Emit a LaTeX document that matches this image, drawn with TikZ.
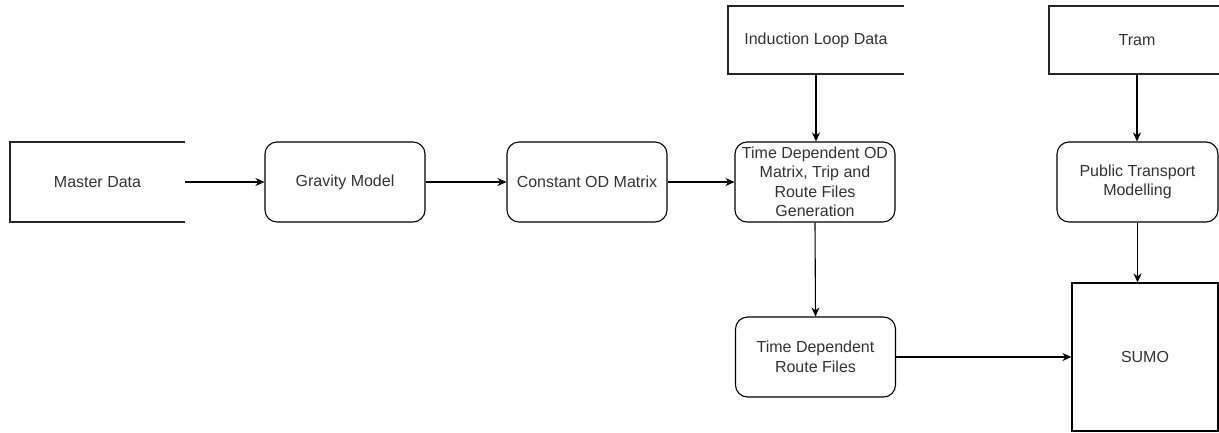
\documentclass[tikz,border=0pt]{standalone}
\usepackage{fontspec}
\setmainfont{Liberation Sans}
\usetikzlibrary{arrows.meta}
\definecolor{txt}{HTML}{333333}
\tikzset{
  lbl/.style={inner sep=0pt, align=center, text=txt, font=\fontsize{16}{19.5}\selectfont},
  proc/.style={lbl, draw=black, line width=1.1pt, rounded corners=12pt, minimum width=160pt, minimum height=80pt},
  plain/.style={lbl, draw=black, line width=1.1pt, minimum width=146pt, minimum height=148pt},
  storebox/.style={lbl, draw=none},
  storeline/.style={draw=black!85, line width=2.2pt},
  conn/.style={draw=black, line width=1.1pt, -{Stealth[length=9pt,width=8pt]}}
}
\begin{document}
\begin{tikzpicture}[x=1pt,y=-1pt]
\useasboundingbox (0,0) rectangle (1219,432);
\begin{scope}
\clip (0,0) rectangle (1219,432);
% data stores
\node[storebox, minimum width=175pt, minimum height=80pt] (md) at (97.5,182) {Master Data};
\node[storebox, minimum width=176pt, minimum height=68pt] (ind) at (816,40) {Induction Loop Data};
\node[storebox, minimum width=176pt, minimum height=68pt] (tram) at (1137,40) {Tram};
\foreach \n in {md,ind,tram}{
  \draw[storeline] (\n.north east) -- (\n.north west) -- (\n.south west) -- (\n.south east);
}
% processes
\node[proc] (grav) at (345,182) {Gravity Model};
\node[proc] (cod) at (587,182) {Constant OD Matrix};
\node[proc] (tdod) at (815,182) {Time Dependent OD\\Matrix, Trip and\\Route Files\\Generation};
\node[proc, minimum width=161pt] (ptm) at (1137.5,182) {Public Transport\\Modelling};
\node[proc] (tdrf) at (815.5,357) {Time Dependent\\Route Files};
\node[plain] (sumo) at (1145,357) {SUMO};
% connectors
\draw[conn] (md.east) -- (grav.west);
\draw[conn] (grav.east) -- (cod.west);
\draw[conn] (cod.east) -- (tdod.west);
\draw[conn] (ind.south) -- (ind.south |- tdod.north);
\draw[conn] (tram.south) -- (tram.south |- ptm.north);
\draw[conn] (tdod.south) -- (tdrf.north);
\draw[conn] (ptm.south) -- (ptm.south |- sumo.north);
\draw[conn] (tdrf.east) -- (sumo.west);
\end{scope}
\end{tikzpicture}
\end{document}
